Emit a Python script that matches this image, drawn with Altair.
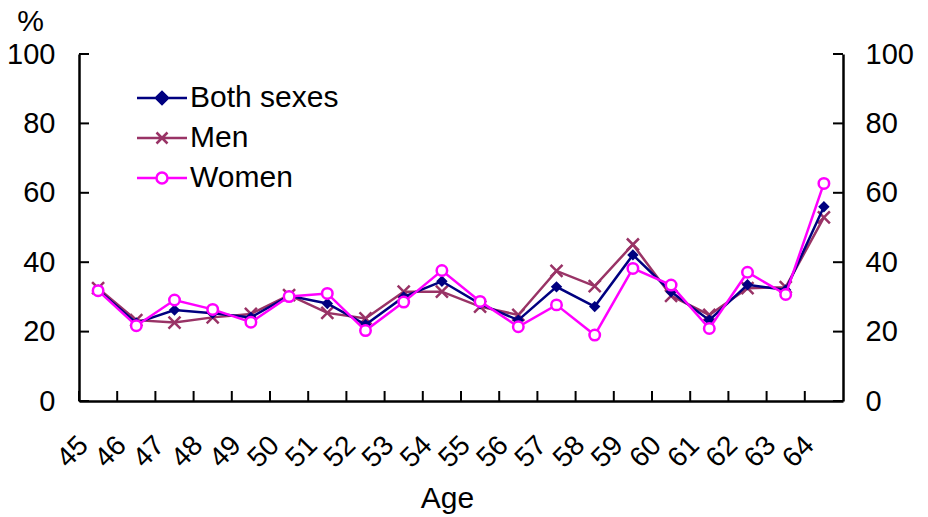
import altair as alt
import pandas as pd

# Share of each age group (per cent), ages 45-64
ages = [45, 46, 47, 48, 49, 50, 51, 52, 53, 54, 55, 56, 57, 58, 59, 60, 61, 62, 63, 64]
both_sexes = [32.0, 22.5, 26.2, 25.3, 24.1, 30.3, 28.1, 22.0, 30.0, 34.5, 28.0, 23.3, 32.9, 27.2, 42.1, 31.5, 23.3, 33.5, 32.0, 56.0]
men = [32.5, 23.3, 22.6, 24.1, 25.1, 30.5, 25.4, 23.8, 31.5, 31.5, 27.2, 24.8, 37.5, 33.1, 45.1, 30.3, 24.8, 32.5, 32.8, 52.9]
women = [31.8, 21.7, 29.1, 26.4, 22.7, 30.1, 31.0, 20.3, 28.5, 37.6, 28.7, 21.4, 27.7, 19.0, 38.2, 33.4, 20.9, 37.1, 30.7, 62.7]

series_names = ["Both sexes", "Men", "Women"]
series_colors = ["#000080", "#993366", "#FF00FF"]
y_ticks = [0, 20, 40, 60, 80, 100]

age_labels = [str(a) for a in ages]
rows = []
for name, vals in zip(series_names, [both_sexes, men, women]):
    for a, v in zip(age_labels, vals):
        rows.append({"age": a, "series": name, "value": v})
df = pd.DataFrame(rows)

FONT = "Liberation Sans"
W, H = 764, 347

# Marker glyphs (unit square paths)
X_PATH = "M-1,-1L1,1M1,-1L-1,1"
# Legend glyphs: a line segment with the series marker in the middle
# (the diamond is built from nested outlines so it reads as solid)
LEGEND_PATHS = [
    "M-2.5,0H2.5M-0.6,0L0,-0.6L0.6,0L0,0.6ZM-0.35,0L0,-0.35L0.35,0L0,0.35ZM-0.1,0L0,-0.1L0.1,0L0,0.1Z",
    "M-2.5,0H2.5M-0.55,-0.55L0.55,0.55M0.55,-0.55L-0.55,0.55",
    "M-2.5,0H-0.55M0.55,0H2.5M0.55,0A0.55,0.55,0,1,1,-0.55,0A0.55,0.55,0,1,1,0.55,0Z",
]

x_scale = alt.Scale(domain=age_labels, paddingInner=0, paddingOuter=0)
y_scale = alt.Scale(domain=[0, 100], nice=False)

x_axis = alt.Axis(
    title="Age", labelAngle=-45, labelAlign="right", labelBaseline="top",
    labelFontSize=28, labelPadding=30, labelOffset=-24, labelColor="black",
    tickSize=0, domainColor="black", domainWidth=2.5, grid=False,
    titleFontSize=30, titleFontWeight="normal", titleColor="black",
    titleX=368, titleY=106, titleBaseline="alphabetic", titleAlign="center",
)

def y_axis(orient, title):
    return alt.Axis(
        orient=orient, values=y_ticks, tickSize=0, labelPadding=24 if orient == "left" else 22,
        labelFontSize=29, labelColor="black", domainColor="black", domainWidth=2.5,
        grid=False, title=title, titleAngle=0, titleX=-49, titleY=-33,
        titleAlign="center", titleBaseline="middle", titleFontSize=30,
        titleFontWeight="normal", titleColor="black",
    )

X = alt.X("age:N", scale=x_scale, axis=x_axis, bandPosition=0.5)


def series_layers(name, color, point_mark, axis):
    base = alt.Chart(df).transform_filter(alt.datum.series == name)
    line = base.mark_line(color=color, strokeWidth=2.5).encode(
        x=X, y=alt.Y("value:Q", scale=y_scale, axis=axis)
    )
    pts = base.mark_point(**point_mark).encode(
        x=X, y=alt.Y("value:Q", scale=y_scale, axis=None)
    )
    return [line, pts]


men_layers = series_layers(
    "Men", series_colors[1],
    dict(shape=X_PATH, filled=False, color=series_colors[1], strokeWidth=2.5, size=144, opacity=1),
    y_axis("left", "%"),
)
both_layers = series_layers(
    "Both sexes", series_colors[0],
    dict(shape="diamond", filled=True, color=series_colors[0], size=130, opacity=1),
    None,
)
women_layers = series_layers(
    "Women", series_colors[2],
    dict(shape="circle", filled=True, fill="white", stroke=series_colors[2], strokeWidth=2.5, size=110, opacity=1),
    y_axis("right", ""),
)

# Invisible layer that only carries the legend entries
leg = alt.Legend(title=None)
legend_layer = alt.Chart(df).mark_point(opacity=0, filled=False, strokeWidth=2.5).encode(
    x=X,
    y=alt.Y("value:Q", scale=y_scale, axis=None),
    stroke=alt.Stroke("series:N", scale=alt.Scale(domain=series_names, range=series_colors), legend=leg),
    shape=alt.Shape("series:N", scale=alt.Scale(domain=series_names, range=LEGEND_PATHS), legend=leg),
)

# Inward tick marks on all three axes
tick_df = pd.DataFrame({"v": y_ticks})
left_ticks = alt.Chart(tick_df).mark_rule(color="black", strokeWidth=2).encode(
    y=alt.Y("v:Q", scale=y_scale, axis=None), x=alt.value(0), x2=alt.value(10)
)
right_ticks = alt.Chart(tick_df).mark_rule(color="black", strokeWidth=2).encode(
    y=alt.Y("v:Q", scale=y_scale, axis=None), x=alt.value(W - 10), x2=alt.value(W)
)
x_ticks = alt.Chart(pd.DataFrame({"age": age_labels})).mark_rule(color="black", strokeWidth=2).encode(
    x=alt.X("age:N", scale=x_scale, axis=x_axis, bandPosition=0),
    y=alt.value(H), y2=alt.value(H - 10),
)

chart = (
    alt.layer(
        left_ticks, right_ticks, x_ticks,
        *men_layers, *both_layers, *women_layers,
        legend_layer,
    )
    .resolve_axis(y="independent")
    .properties(
        width=W, height=H,
        autosize=alt.AutoSizeParams(type="none"),
        padding={"left": 79, "top": 54, "right": 85, "bottom": 116},
    )
    .configure(font=FONT)
    .configure_view(stroke=None)
    .configure_legend(
        orient="none", legendX=68, legendY=29, labelFontSize=30, labelColor="black",
        labelFont=FONT, symbolSize=400, symbolStrokeWidth=2.5, labelOffset=13,
        rowPadding=10, padding=0,
    )
)

chart.save("out.html", embed_options={"renderer": "svg", "actions": False})
